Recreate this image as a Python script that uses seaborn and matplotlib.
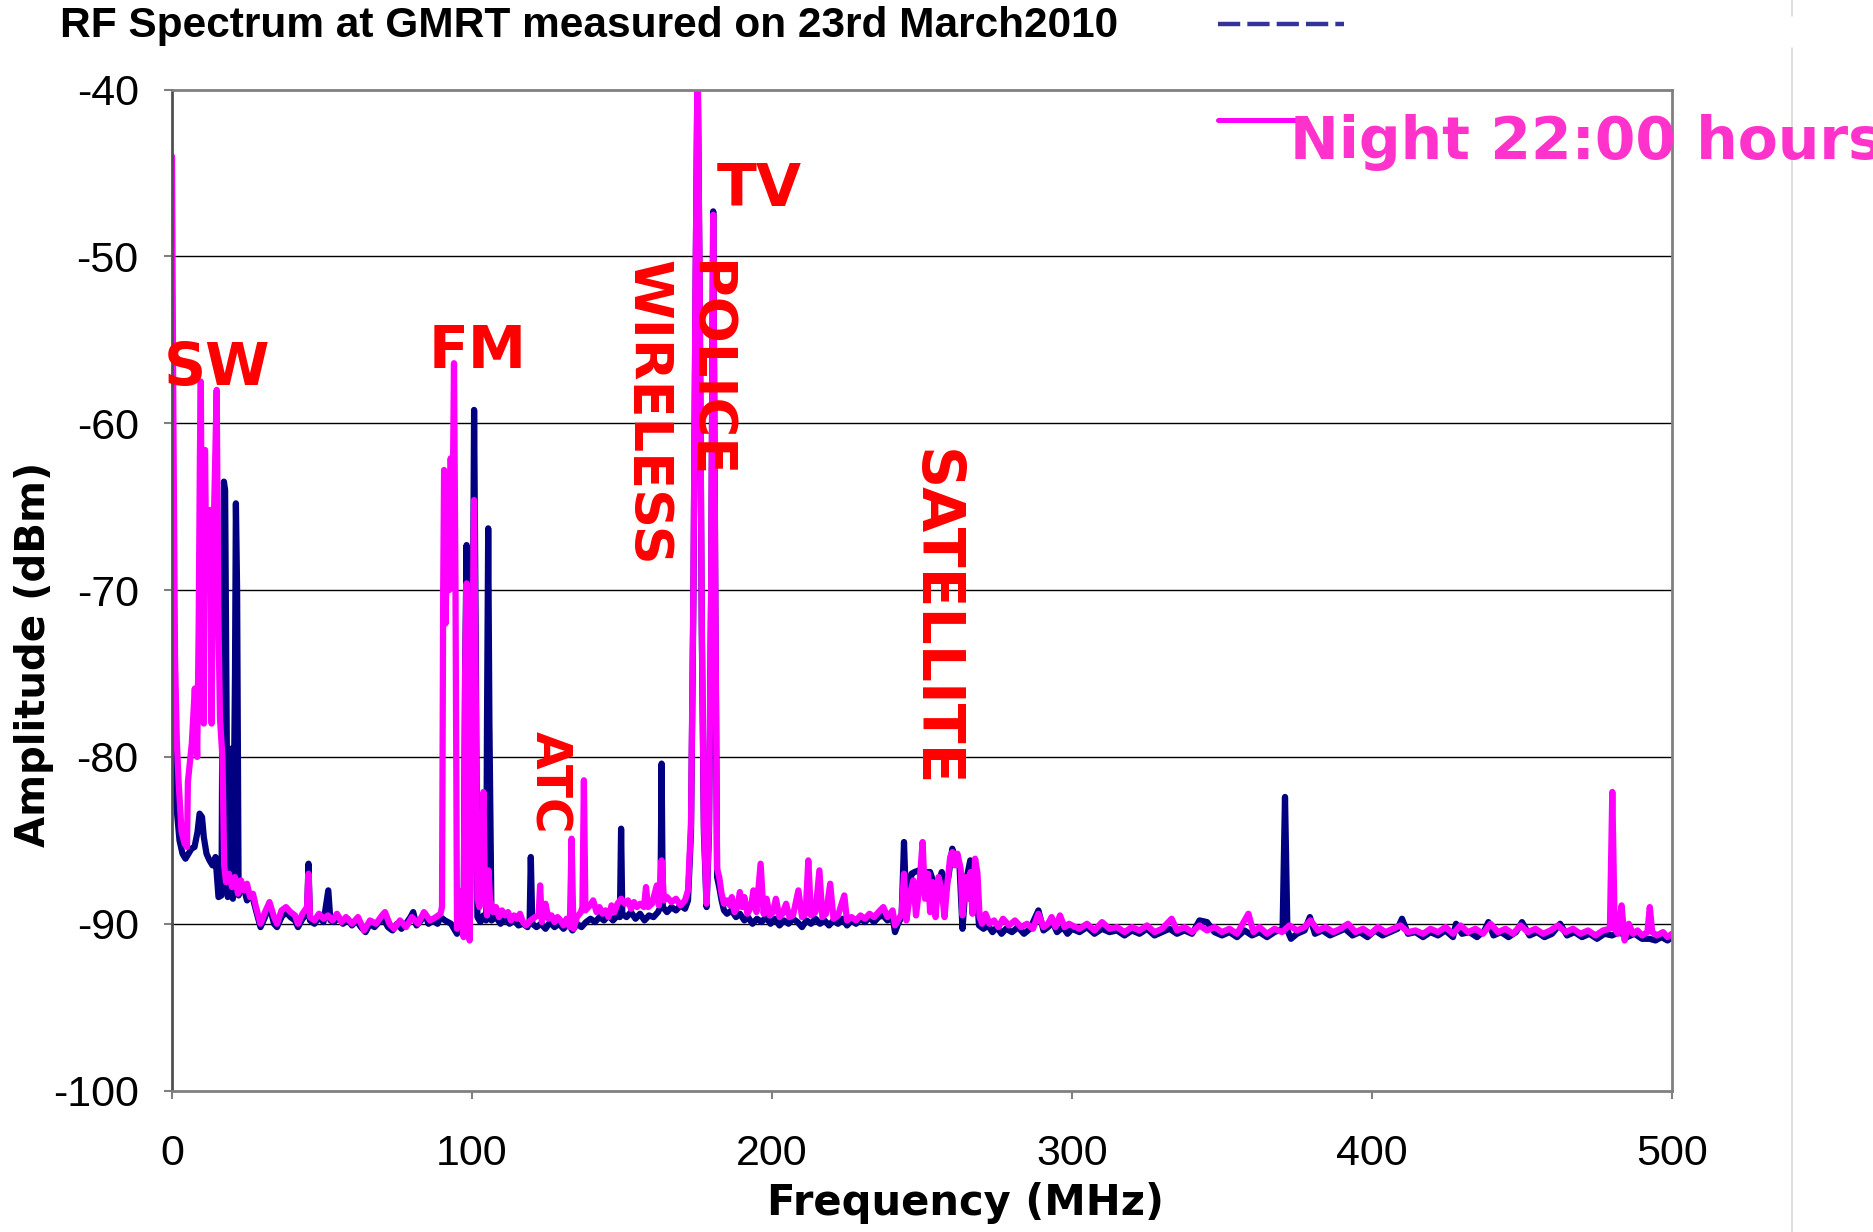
import numpy as np
import pandas as pd
import matplotlib
matplotlib.use("Agg")
import matplotlib.pyplot as plt
from matplotlib.lines import Line2D
import seaborn as sns

# ---------------- data ----------------
night_lo_freq = [
    0.0, 0.4, 1.0, 1.6, 2.2, 3.2, 4.2, 5.0, 5.3, 6.6,
    7.6, 8.4, 8.9, 9.3, 9.6, 10.0, 10.6, 11.0, 11.5, 12.2,
    12.7, 13.2, 13.7, 14.3, 14.9, 15.4, 16.0, 16.8, 17.4, 18.0,
    19.0, 20.0, 21.0, 22.0, 23.0, 24.0, 25.0, 26.0, 27.0, 28.0,
    29.5, 31.0, 32.5, 34.0, 35.0, 36.5, 38.0, 39.5, 41.0, 42.0,
    43.5, 45.0, 45.5, 46.0, 47.5, 49.0, 50.5, 52.0, 53.5, 55.0,
    56.5, 58.0, 60.0, 62.0, 64.0, 66.0, 68.0, 70.0, 71.0, 72.5,
    74.0, 76.0, 78.0, 80.0, 82.0, 84.0, 86.0, 88.0, 89.5, 90.0,
    90.4, 90.7, 91.2, 91.8, 92.4, 92.9, 93.4, 94.0, 94.5, 95.0,
    95.5, 96.0, 96.6, 97.2, 97.7, 98.2, 98.7, 99.2, 99.8, 100.4,
    100.7, 101.2, 101.8, 102.5, 103.3, 103.8, 104.3, 105.0, 105.5, 106.0,
    107.0, 108.0, 109.0, 110.0, 111.0, 112.0, 113.0, 114.0, 115.0, 116.0,
    117.0, 118.0, 119.5, 121.0, 122.2, 122.7, 123.3, 124.5, 125.5, 126.5,
    127.5, 128.5, 129.5, 130.5, 131.5, 132.6, 133.2, 133.8, 135.0, 136.3,
    136.8, 137.3, 137.8, 139.3, 140.4, 141.5, 142.5, 143.5, 144.5, 145.5,
    146.5, 147.5, 148.5, 149.7, 151.0, 152.0, 153.0, 154.0, 155.0, 156.0,
    157.3, 158.0, 158.7, 160.0, 161.6, 162.3, 163.2, 164.0, 165.0, 166.5,
    168.0, 169.5, 171.0, 172.0, 173.0, 173.8, 174.5, 175.2, 175.9, 176.6,
    177.3, 178.2, 179.0, 179.7, 180.4, 181.1, 181.7, 182.4, 183.2, 184.0,
    185.0, 186.0, 186.6, 187.5, 188.5, 189.3, 190.0, 190.8, 191.8, 193.0,
    193.8, 194.8, 196.2, 197.2, 198.2, 199.2, 200.3, 201.3, 202.5, 203.5,
    204.7, 205.8, 207.0, 208.8, 210.0, 211.2, 212.1, 213.0, 214.5, 215.8,
    216.8, 218.0, 219.4, 220.5, 222.0, 224.1, 225.0, 226.5, 228.0, 229.5,
    231.0, 232.5, 234.0, 235.5, 237.1, 238.5, 240.2, 241.0, 242.0, 243.2,
    244.0, 244.8, 246.0, 247.1, 248.0, 249.0, 250.2, 251.0, 252.0, 252.7,
    253.5, 254.5, 255.5, 256.6, 257.5, 258.5, 259.4, 260.1, 261.0, 261.8,
    262.9, 263.5, 264.6, 265.5, 266.2, 266.8, 267.7, 268.5, 269.2, 270.0,
    271.2, 272.5, 274.0, 275.5, 277.0, 279.0, 281.0, 283.0, 285.0, 287.0,
    288.8, 290.5, 292.0, 293.2, 294.5, 296.0, 297.5, 299.0,
]
night_lo_amp = [
    -44.0, -58.0, -74.0, -79.0, -81.5, -84.5, -85.2, -85.4, -81.5, -79.2,
    -75.9, -80.0, -72.0, -62.0, -57.5, -70.0, -78.0, -61.6, -70.0, -66.0,
    -65.2, -78.0, -68.0, -63.0, -58.0, -71.0, -77.7, -80.0, -86.5, -87.5,
    -87.0, -87.8, -87.2, -88.2, -87.4, -88.0, -87.6, -88.4, -88.2, -89.0,
    -90.0, -89.3, -88.7, -89.6, -90.0, -89.2, -89.0, -89.3, -89.5, -90.0,
    -89.4, -89.0, -87.0, -89.6, -89.8, -89.4, -89.7, -89.5, -89.8, -89.4,
    -89.9, -89.6, -90.0, -89.6, -90.4, -89.8, -90.0, -89.5, -89.3, -90.0,
    -90.3, -89.8, -90.2, -89.6, -90.0, -89.3, -89.8, -89.6, -89.4, -89.0,
    -70.0, -62.8, -72.0, -66.0, -70.0, -62.1, -68.0, -56.4, -70.0, -90.3,
    -88.0, -89.5, -88.5, -90.8, -75.0, -69.6, -80.0, -91.0, -85.0, -70.0,
    -64.6, -75.0, -88.5, -89.0, -86.0, -82.1, -88.0, -89.5, -86.8, -88.5,
    -89.3, -89.0, -89.6, -89.2, -89.5, -89.3, -89.8, -89.5, -89.7, -89.4,
    -89.9, -90.1, -89.8, -89.6, -89.5, -87.7, -89.9, -88.8, -89.7, -89.5,
    -89.9, -89.6, -89.8, -90.1, -89.7, -90.2, -84.9, -90.3, -89.6, -89.3,
    -89.0, -81.4, -89.2, -88.9, -88.6, -89.3, -89.0, -89.4, -89.2, -89.6,
    -88.9, -89.3, -88.8, -88.5, -88.8, -88.6, -89.1, -88.7, -89.0, -88.8,
    -89.0, -87.8, -89.0, -88.8, -87.7, -88.9, -86.2, -88.6, -88.4, -88.7,
    -88.5, -88.9, -88.6, -88.0, -84.0, -70.0, -52.0, -38.0, -52.0, -72.0,
    -84.0, -88.8, -84.0, -70.0, -47.5, -70.0, -86.7, -87.2, -88.2, -88.8,
    -88.6, -88.9, -88.4, -89.3, -89.0, -88.1, -89.0, -88.4, -89.4, -89.0,
    -88.0, -89.3, -86.4, -89.4, -88.5, -89.5, -89.3, -88.5, -89.6, -89.4,
    -88.8, -89.6, -89.5, -88.0, -89.6, -89.4, -86.2, -89.5, -89.3, -86.8,
    -89.6, -89.4, -87.6, -89.7, -89.5, -88.3, -89.8, -89.6, -89.8, -89.5,
    -89.7, -89.4, -89.6, -89.3, -89.0, -89.6, -89.2, -90.1, -89.8, -89.4,
    -87.0, -89.8, -88.2, -87.4, -89.5, -88.0, -85.1, -88.5, -87.0, -89.3,
    -87.5, -89.6, -87.2, -88.0, -89.6, -87.5, -86.0, -85.7, -86.5, -85.8,
    -86.7, -89.5, -87.2, -88.5, -86.9, -89.4, -86.1, -87.0, -89.6, -90.0,
    -89.4, -90.0, -89.8, -90.2, -89.7, -90.1, -89.8, -90.2, -90.0, -90.3,
    -89.4, -90.2, -90.0, -89.6, -90.2, -89.5, -90.2, -90.0,
]
night_hi_freq = [
    300.0, 302.5, 305.0, 307.5, 310.0, 312.5, 315.0, 317.5, 320.0, 322.5,
    325.0, 327.5, 330.0, 333.2, 335.0, 337.5, 340.0, 342.5, 345.0, 347.5,
    350.0, 352.5, 355.0, 358.8, 360.5, 362.5, 365.0, 367.5, 370.0, 372.5,
    375.0, 377.5, 379.5, 382.0, 384.5, 387.0, 389.5, 392.0, 394.5, 397.0,
    399.5, 402.0, 404.5, 407.0, 409.5, 412.0, 414.5, 417.0, 419.5, 422.0,
    424.5, 427.0, 429.5, 432.0, 434.5, 437.0, 439.5, 442.0, 444.5, 447.0,
    449.5, 452.0, 454.5, 457.0, 459.5, 462.0, 464.5, 467.0, 469.5, 472.0,
    474.5, 477.0, 479.3, 480.1, 480.9, 482.0, 483.2, 484.2, 485.6, 487.0,
    488.5, 490.0, 491.8, 492.6, 493.4, 495.0, 497.0, 498.5, 500.0,
]
night_hi_amp = [
    -90.1, -90.3, -90.0, -90.4, -89.9, -90.3, -90.2, -90.5, -90.2, -90.4,
    -90.1, -90.5, -90.3, -89.7, -90.4, -90.2, -90.5, -90.1, -90.4, -90.2,
    -90.5, -90.3, -90.6, -89.4, -90.5, -90.2, -90.6, -90.3, -90.5, -90.1,
    -90.4, -90.2, -89.8, -90.4, -90.2, -90.5, -90.3, -90.0, -90.5, -90.3,
    -90.6, -90.2, -90.5, -90.3, -90.1, -90.5, -90.4, -90.6, -90.3, -90.5,
    -90.2, -90.6, -90.1, -90.5, -90.3, -90.6, -90.0, -90.5, -90.3, -90.6,
    -90.1, -90.5, -90.3, -90.6, -90.4, -90.1, -90.5, -90.3, -90.6, -90.4,
    -90.7, -90.4, -90.3, -82.1, -90.3, -90.6, -88.9, -91.0, -90.0, -90.6,
    -90.4, -90.7, -90.5, -89.0, -90.5, -90.7, -90.5, -90.8, -90.6,
]

day_lo_freq = [
    0.0, 0.5, 1.5, 2.5, 3.5, 4.5, 5.5, 6.5, 7.5, 8.5,
    9.2, 10.0, 10.6, 11.5, 12.5, 13.5, 14.5, 15.5, 16.5, 17.0,
    17.3, 17.7, 18.1, 18.6, 19.2, 19.8, 20.3, 21.0, 21.3, 21.7,
    22.2, 23.0, 24.0, 25.0, 26.0, 27.0, 28.0, 29.5, 31.0, 32.5,
    34.0, 35.0, 36.5, 38.0, 39.5, 41.0, 42.0, 43.5, 45.0, 45.5,
    46.0, 47.5, 49.0, 50.5, 52.1, 52.8, 54.0, 55.5, 57.0, 58.5,
    60.0, 61.5, 63.0, 64.5, 66.0, 67.5, 69.0, 70.5, 72.0, 73.5,
    75.0, 76.5, 78.0, 79.5, 80.4, 81.5, 83.0, 84.3, 85.5, 87.0,
    88.5, 89.5, 91.0, 93.0, 95.0, 96.0, 97.2, 97.7, 98.2, 98.7,
    99.2, 100.2, 100.7, 101.2, 101.8, 102.8, 103.8, 104.7, 105.0, 105.4,
    105.8, 106.5, 108.0, 109.5, 111.0, 112.5, 114.0, 115.5, 117.0, 118.5,
    119.2, 119.6, 120.1, 121.5, 123.0, 124.5, 126.0, 127.5, 129.0, 130.5,
    132.0, 133.5, 135.0, 136.5, 138.0, 139.5, 141.0, 142.5, 144.0, 145.5,
    147.0, 148.5, 149.3, 149.7, 150.1, 151.5, 153.0, 154.5, 156.0, 157.5,
    159.0, 160.5, 162.0, 162.8, 163.2, 163.6, 165.0, 166.5, 168.0, 169.5,
    171.0, 172.0, 173.0, 173.8, 174.5, 175.2, 175.9, 176.6, 177.3, 178.2,
    179.0, 179.7, 180.4, 181.1, 181.7, 182.4, 183.2, 184.0, 185.0, 186.5,
    188.0, 189.3, 190.8, 192.0, 193.5, 195.0, 196.5, 198.0, 199.5, 201.0,
    202.5, 204.0, 205.5, 207.0, 208.5, 210.0, 211.5, 213.0, 214.5, 216.0,
    217.5, 219.0, 220.5, 222.0, 223.5, 225.0, 226.5, 228.0, 229.5, 231.0,
    232.5, 234.0, 235.5, 237.0, 238.5, 240.2, 241.0, 242.0, 243.2, 244.0,
    244.8, 246.5, 247.5, 249.0, 250.2, 251.5, 252.7, 253.8, 255.0, 256.6,
    257.8, 258.8, 260.1, 261.2, 262.5, 263.5, 264.6, 266.1, 267.0, 268.0,
    269.0, 270.5, 272.0, 273.5, 275.0, 276.5, 278.0, 280.0, 282.0, 284.0,
    286.0, 288.8, 290.5, 292.0, 293.5, 295.0, 297.0, 298.5,
]
day_lo_amp = [
    -76.0, -80.0, -83.0, -85.0, -85.8, -86.1, -85.8, -85.5, -85.4, -84.5,
    -83.4, -83.6, -84.8, -85.8, -86.2, -86.5, -86.0, -88.4, -88.3, -70.0,
    -63.5, -64.0, -75.0, -88.4, -88.2, -79.5, -88.5, -75.0, -64.8, -70.0,
    -88.3, -87.6, -87.9, -88.6, -88.3, -88.5, -89.2, -90.2, -89.6, -88.9,
    -90.0, -90.2, -89.6, -89.3, -89.6, -89.8, -90.2, -89.7, -89.4, -86.4,
    -89.8, -90.0, -89.6, -89.9, -88.0, -89.8, -89.9, -89.6, -90.0, -89.7,
    -90.1, -89.8, -90.2, -90.5, -90.0, -90.2, -89.9, -89.7, -90.2, -90.4,
    -90.0, -90.3, -90.0, -89.6, -89.3, -90.1, -89.8, -89.4, -90.0, -89.8,
    -90.0, -89.6, -89.8, -90.0, -90.6, -89.9, -90.2, -75.0, -67.3, -76.0,
    -90.4, -75.0, -59.2, -72.0, -89.6, -89.9, -89.5, -89.8, -78.0, -66.3,
    -78.0, -89.8, -89.6, -90.0, -89.7, -90.0, -89.8, -90.1, -90.0, -90.2,
    -89.9, -86.0, -90.0, -90.2, -90.0, -90.3, -89.9, -90.2, -90.0, -90.3,
    -90.0, -90.4, -90.0, -90.2, -89.9, -89.7, -89.9, -89.6, -89.8, -89.5,
    -89.8, -89.5, -89.6, -84.3, -89.4, -89.6, -89.3, -89.7, -89.4, -89.8,
    -89.5, -89.6, -89.3, -89.0, -80.4, -89.0, -89.3, -89.0, -89.2, -88.9,
    -89.1, -88.6, -84.5, -70.5, -52.5, -38.0, -52.5, -72.5, -84.5, -89.0,
    -84.5, -70.5, -47.3, -70.5, -87.2, -87.8, -88.6, -89.2, -89.4, -89.2,
    -89.6, -89.4, -89.8, -89.6, -90.0, -89.7, -89.9, -89.6, -90.0, -89.7,
    -90.1, -89.8, -90.0, -89.7, -89.9, -90.2, -89.8, -90.0, -89.7, -90.0,
    -89.8, -90.1, -89.8, -90.0, -89.7, -90.1, -89.8, -90.0, -89.7, -89.9,
    -89.6, -89.9, -89.6, -89.5, -89.8, -89.6, -90.5, -90.0, -89.6, -85.1,
    -89.4, -87.0, -86.9, -86.8, -87.0, -86.9, -86.9, -87.5, -87.8, -86.9,
    -88.0, -87.2, -85.5, -86.2, -86.5, -90.3, -87.5, -86.2, -86.5, -87.5,
    -90.1, -90.3, -90.1, -90.5, -90.2, -90.6, -90.3, -90.5, -90.2, -90.6,
    -90.3, -89.2, -90.4, -90.2, -89.9, -90.5, -90.2, -90.6,
]
day_hi_freq = [
    300.0, 302.5, 305.0, 307.5, 310.0, 312.5, 315.0, 317.5, 320.0, 322.5,
    325.0, 327.5, 330.0, 332.5, 335.0, 337.5, 340.0, 342.5, 345.0, 347.5,
    350.0, 352.5, 355.0, 357.5, 360.0, 362.5, 365.0, 367.5, 370.2, 371.0,
    371.8, 373.0, 375.0, 377.5, 379.3, 381.0, 383.5, 386.0, 388.5, 391.0,
    393.5, 396.0, 398.5, 401.0, 403.5, 406.0, 408.5, 410.0, 412.0, 414.5,
    417.0, 419.5, 422.0, 424.5, 427.0, 428.0, 430.0, 432.5, 435.0, 437.5,
    438.8, 440.5, 443.0, 445.5, 448.0, 450.0, 452.5, 455.0, 457.5, 460.0,
    462.7, 465.0, 467.5, 470.0, 472.5, 475.0, 477.5, 480.0, 482.5, 485.0,
    487.5, 490.0, 492.5, 494.5, 496.5, 498.5, 500.0,
]
day_hi_amp = [
    -90.3, -90.5, -90.2, -90.6, -90.3, -90.5, -90.4, -90.7, -90.4, -90.6,
    -90.3, -90.7, -90.5, -90.3, -90.6, -90.4, -90.6, -89.8, -89.9, -90.5,
    -90.7, -90.5, -90.8, -90.4, -90.7, -90.5, -90.8, -90.5, -90.3, -82.4,
    -90.4, -90.9, -90.6, -90.4, -89.6, -90.6, -90.4, -90.7, -90.5, -90.3,
    -90.7, -90.5, -90.8, -90.4, -90.7, -90.5, -90.3, -89.7, -90.6, -90.5,
    -90.8, -90.5, -90.7, -90.4, -90.8, -90.0, -90.6, -90.5, -90.8, -90.4,
    -89.9, -90.7, -90.5, -90.8, -90.5, -89.9, -90.7, -90.5, -90.8, -90.6,
    -90.0, -90.7, -90.5, -90.8, -90.6, -90.9, -90.6, -90.7, -90.5, -90.8,
    -90.6, -90.9, -90.9, -91.0, -90.8, -91.0, -90.8,
]

x_ticks = [0, 100, 200, 300, 400, 500]
y_ticks = [-100, -90, -80, -70, -60, -50, -40]

title_text = "RF Spectrum at GMRT measured on 23rd March2010"
legend_night = "Night 22:00 hours"

# ---------------- figure ----------------
sns.set_style("white")
plt.rcParams['font.family'] = ['DejaVu Sans']

W, H = 1873, 1232
fig = plt.figure(figsize=(W / 100, H / 100), dpi=100)
ax = fig.add_axes([172 / W, 1 - 1090.6 / H, 1500 / W, 1001 / H])

df_day = pd.DataFrame({"freq": day_lo_freq + day_hi_freq,
                       "amp": day_lo_amp + day_hi_amp})
df_night = pd.DataFrame({"freq": night_lo_freq + night_hi_freq,
                         "amp": night_lo_amp + night_hi_amp})

sns.lineplot(data=df_day, x="freq", y="amp", ax=ax, color="#000080",
             lw=4.5, sort=False, estimator=None, legend=False)
sns.lineplot(data=df_night, x="freq", y="amp", ax=ax, color="#FF00FF",
             lw=4.5, sort=False, estimator=None, legend=False)
for ln in ax.lines:
    ln.set_solid_joinstyle("round")
    ln.set_solid_capstyle("round")

ax.set_xlim(0, 500)
ax.set_ylim(-100, -40)
ax.set_xticks(x_ticks)
ax.set_yticks(y_ticks)
ax.set_xticklabels([str(v) for v in x_ticks], fontfamily="Liberation Sans", fontsize=31, color="black")
ax.set_yticklabels([str(v) for v in y_ticks], fontfamily="Liberation Sans", fontsize=31, color="black")
ax.tick_params(axis="y", direction="out", length=6, width=1.5, color="#808080", pad=18, left=True)
ax.tick_params(axis="x", direction="out", length=6, width=1.5, color="#808080", pad=25, bottom=True)

ax.set_axisbelow(True)
for yv in y_ticks[1:-1]:
    ax.axhline(yv, color="black", lw=1.0, zorder=0.5)

for side in ["top", "bottom", "right"]:
    ax.spines[side].set_color("#808080")
    ax.spines[side].set_linewidth(2.0)
ax.spines["left"].set_color("#505050")
ax.spines["left"].set_linewidth(2.0)

ax.set_xlabel("Frequency (MHz)", fontsize=30, fontweight="bold", color="black")
ax.set_ylabel("Amplitude (dBm)", fontsize=29, fontweight="bold", color="black")
ax.xaxis.label.set_va("center")
ax.yaxis.label.set_va("center")
ax.xaxis.set_label_coords(0.529, -0.112)
ax.yaxis.set_label_coords(-0.0923, 0.4356)

# band annotations
red = "#FF0000"
ax.text(15.1, -57.7, "SW", color=red, fontsize=42, fontweight="bold", ha="center", va="baseline")
ax.text(101.9, -56.7, "FM", color=red, fontsize=42, fontweight="bold", ha="center", va="baseline")
ax.text(195.9, -47.0, "TV", color=red, fontsize=42, fontweight="bold", ha="center", va="baseline")
ax.text(158.5, -59.4, "WIRELESS", color=red, fontsize=39, fontweight="bold", rotation=-90, ha="center", va="center")
ax.text(178.7, -56.8, "POLICE", color=red, fontsize=39, fontweight="bold", rotation=-90, ha="center", va="center")
ax.text(125.8, -81.5, "ATC", color=red, fontsize=35, fontweight="bold", rotation=-90, ha="center", va="center")
ax.text(254.0, -71.7, "SATELLITE", color=red, fontsize=42, fontweight="bold", rotation=-90, ha="center", va="center")

# title
fig.text(60 / W, 1 - 26 / H, title_text, fontfamily="Liberation Sans", fontweight="bold",
         fontsize=30.5, ha="left", va="center", color="black")

# legend fragments (clipped legend of the original)
fig.add_artist(Line2D([1218 / W, 1344 / W], [1 - 24 / H, 1 - 24 / H], transform=fig.transFigure,
                      color="#333399", lw=3.2, linestyle=(0, (5, 1.6))))
fig.add_artist(Line2D([1218 / W, 1296 / W], [1 - 120 / H, 1 - 120 / H], transform=fig.transFigure,
                      color="#FF00FF", lw=3.6))
fig.text(1290 / W, 1 - 159 / H, legend_night, color="#FF33CC", fontsize=42, fontweight="bold",
         ha="left", va="baseline")

# faint frame line on the right
fig.add_artist(Line2D([1792 / W, 1792 / W], [1 - 48 / H, 0], transform=fig.transFigure,
                      color="#D8D8D8", lw=1.2, zorder=0))
fig.add_artist(Line2D([1792 / W, 1792 / W], [1, 1 - 16 / H], transform=fig.transFigure,
                      color="#D8D8D8", lw=1.2, zorder=0))

fig.savefig("out.png", dpi=100, facecolor="white")
